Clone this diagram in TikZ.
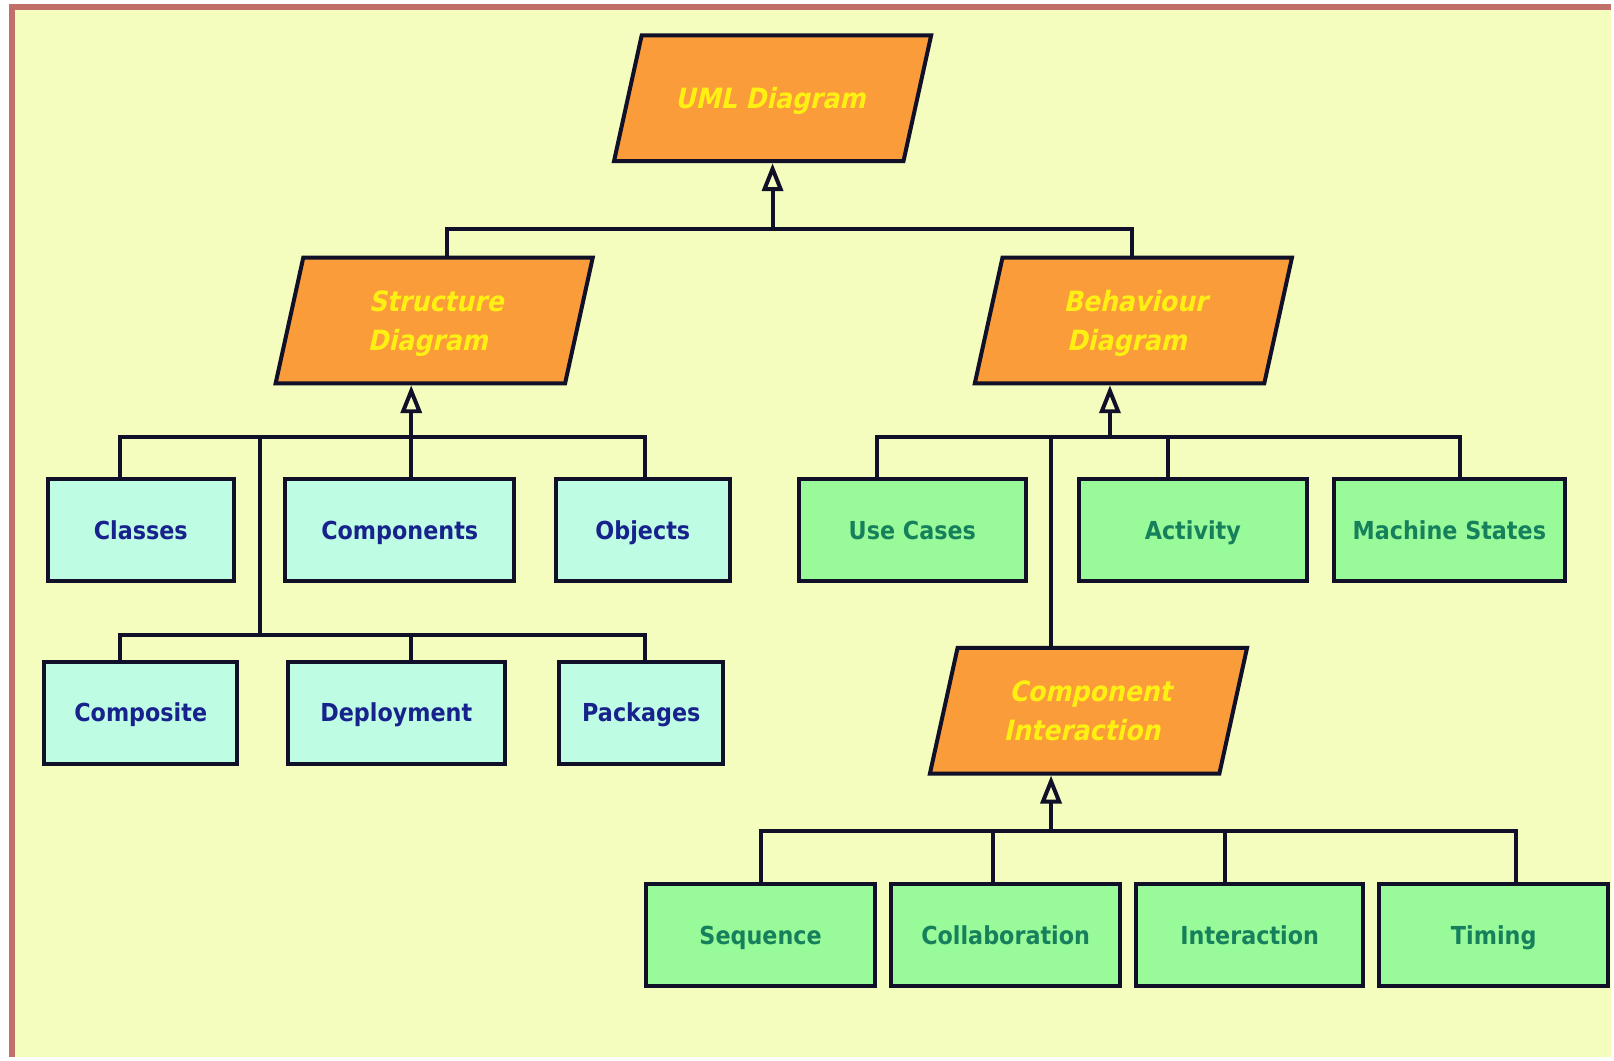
\documentclass[tikz,border=0pt]{standalone}
\usepackage{fontspec}
\newfontfamily\diafont[FakeStretch=0.9]{DejaVu Sans}
\usetikzlibrary{arrows.meta,positioning}
\definecolor{bgyellow}{RGB}{244,252,190}
\definecolor{framebrown}{RGB}{192,112,104}
\definecolor{umlorange}{RGB}{251,156,58}
\definecolor{umlyellow}{RGB}{255,240,20}
\definecolor{cyanbox}{RGB}{190,252,228}
\definecolor{bluetext}{RGB}{24,34,140}
\definecolor{greenbox}{RGB}{152,250,152}
\definecolor{greentext}{RGB}{22,128,92}
\definecolor{linecol}{RGB}{16,16,40}
\begin{document}
\begin{tikzpicture}[x=0.5pt,y=-0.5pt,on grid,line join=miter,
  para/.style={rectangle,xslant=0.22,transform shape,draw=linecol,line width=2pt,
    fill=umlorange,minimum width=145pt,minimum height=63pt,text=umlyellow,
    font=\diafont\bfseries\fontsize{14}{19.5}\selectfont,
    text height=10.2pt,text depth=0pt},
  paratwo/.style={para,text depth=19.5pt},
  box/.style={rectangle,draw=linecol,line width=2pt,minimum height=51pt,
    font=\diafont\bfseries\fontsize{12.4}{14}\selectfont,
    text height=9pt,text depth=0pt},
  sbox/.style={box,fill=cyanbox,text=bluetext},
  bbox/.style={box,fill=greenbox,text=greentext},
  link/.style={draw=linecol,line width=2pt},
  gen/.style={link,-{Triangle[open,length=14pt,width=10.5pt]}}]
   \fill[bgyellow] (12,7) rectangle (1614,1059);
   \draw[framebrown,line width=3pt] (12,1059) -- (12,7) -- (1614,7);
   \useasboundingbox (0,0) rectangle (1614,1059);

   \node[para] (uml) at (774,98.5) {UML Diagram};
   \node[paratwo] (struct) [below left=111.25pt and 169.5pt of uml]
     {\begin{tabular}[t]{@{}c@{}}Structure\\Diagram\end{tabular}};
   \node[paratwo] (behav) [right=350.25pt of struct]
     {\begin{tabular}[t]{@{}c@{}}Behaviour\\Diagram\end{tabular}};
   \node[paratwo] (compint) [below left=195.5pt and 22.5pt of behav]
     {\begin{tabular}[t]{@{}c@{}}Component\\Interaction\end{tabular}};

   \node[sbox,minimum width=93pt] (classes) [below left=105pt and 147pt of struct] {Classes};
   \node[sbox,minimum width=114.5pt] (components) [right=129.75pt of classes] {Components};
   \node[sbox,minimum width=87pt] (objects) [right=121.75pt of components] {Objects};
   \node[sbox,minimum width=96.5pt] (composite) [below=91.5pt of classes] {Composite};
   \node[sbox,minimum width=108.5pt] (deployment) [right=128pt of composite] {Deployment};
   \node[sbox,minimum width=82pt] (packages) [right=122.75pt of deployment] {Packages};

   \node[bbox,minimum width=114pt] (usecases) [below left=105pt and 110.75pt of behav] {Use Cases};
   \node[bbox,minimum width=114.5pt] (activity) [right=140.5pt of usecases] {Activity};
   \node[bbox,minimum width=115.5pt] (machine) [right=128.5pt of activity] {Machine States};

   \node[bbox,minimum width=114.5pt] (sequence) [below left=112.5pt and 164.25pt of compint] {Sequence};
   \node[bbox,minimum width=114.5pt] (collab) [right=122.75pt of sequence] {Collaboration};
   \node[bbox,minimum width=114pt] (interaction) [right=122.25pt of collab] {Interaction};
   \node[bbox,minimum width=114.5pt] (timing) [right=122.25pt of interaction] {Timing};

   \coordinate (a0) at (774,229);
   \coordinate (a1) at (448,229);
   \coordinate (a2) at (1134,229);
   \coordinate (s0) at (412,438);
   \coordinate (s1) at (120,438);
   \coordinate (s2) at (646,438);
   \coordinate (s3) at (260,438);
   \coordinate (t0) at (412,636);
   \coordinate (t1) at (120,636);
   \coordinate (t2) at (646,636);
   \coordinate (t3) at (260,636);
   \coordinate (b0) at (1112,438);
   \coordinate (b1) at (879,438);
   \coordinate (b2) at (1463,438);
   \coordinate (b3) at (1170,438);
   \coordinate (b4) at (1053,438);
   \coordinate (c0) at (1053,833);
   \coordinate (c1) at (762,833);
   \coordinate (c2) at (1519,833);
   \coordinate (c3) at (995,833);
   \coordinate (c4) at (1227,833);

   \draw[link] (a1 |- struct.north) -- (a1) -- (a2) -- (a2 |- behav.north);
   \draw[gen] (a0) -- (a0 |- uml.south);

   \draw[link] (s1 |- classes.north) -- (s1) -- (s2) -- (s2 |- objects.north);
   \draw[gen] (s0 |- components.north) -- (s0 |- struct.south);
   \draw[link] (s3) -- (t3);
   \draw[link] (t1 |- composite.north) -- (t1) -- (t2) -- (t2 |- packages.north);
   \draw[link] (t0) -- (t0 |- deployment.north);

   \draw[link] (b1 |- usecases.north) -- (b1) -- (b2) -- (b2 |- machine.north);
   \draw[link] (b3) -- (b3 |- activity.north);
   \draw[link] (b4) -- (b4 |- compint.north);
   \draw[gen] (b0) -- (b0 |- behav.south);

   \draw[link] (c1 |- sequence.north) -- (c1) -- (c2) -- (c2 |- timing.north);
   \draw[link] (c3) -- (c3 |- collab.north);
   \draw[link] (c4) -- (c4 |- interaction.north);
   \draw[gen] (c0) -- (c0 |- compint.south);
\end{tikzpicture}
\end{document}
